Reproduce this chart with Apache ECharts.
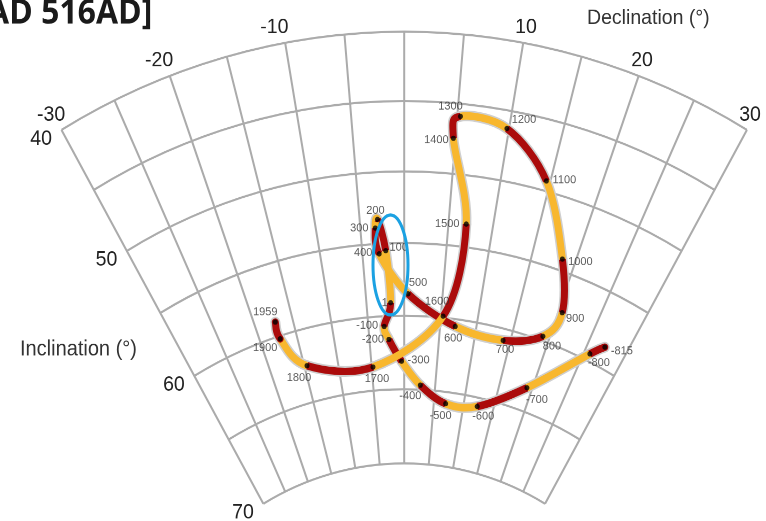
<!DOCTYPE html>
<html>
<head>
<meta charset="utf-8">
<script src="https://cdn.jsdelivr.net/npm/echarts@6/dist/echarts.min.js"></script>
<style>
  html, body { margin: 0; padding: 0; background: #fff; overflow: hidden; width: 766px; height: 521px; }
  /* the polar fan is drawn slightly taller than wide */
  #chart { width: 766px; height: 488px; transform: scaleY(1.069); transform-origin: 0 0; }
</style>
</head>
<body>
<div id="chart"></div>
<script>
// Secular variation path: year, declination (deg), inclination (deg)
const years = [-815, -800, -700, -600, -500, -400, -300, -200, -100, 1, 100, 200, 300, 400, 500,
  600, 700, 800, 900, 1000, 1100, 1200, 1300, 1400, 1500, 1600, 1700, 1800, 1900, 1959];
const declination = [27.2, 25.8, 19.2, 12.3, 7.0, 2.6, -0.4, -2.2, -2.8, -1.8, -2.2, -3.0, -3.3, -3.0, 0.5,
  7.1, 14.0, 19.1, 20.5, 18.5, 14.6, 9.8, 5.3, 4.8, 7.0, 5.3, -4.8, -14.6, -17.3, -17.3];
const inclination = [58.6, 59.5, 63.4, 65.6, 65.8, 64.7, 63.1, 61.6, 60.7, 59.1, 55.5, 53.3, 53.9, 55.7, 58.5,
  60.5, 60.8, 59.7, 57.7, 54.2, 49.3, 46.3, 45.9, 47.5, 53.4, 59.9, 63.4, 62.5, 60.2, 59.0];

// Axis ticks
const decLabelTicks = [-30, -20, -10, 10, 20, 30];
const incGridTicks = [40, 45, 50, 55, 60, 65, 70];
const incLabelTicks = [40, 50, 60, 70];

const STRETCH = 1.069;
const RED = '#ab0b0b';
const ORANGE = '#f8b72e';
const GRID = '#ababab';

// Equal-area (Lambert) radial distance of an inclination
function areaRadius(inc) { return Math.sin((90 - inc) / 2 * Math.PI / 180); }
function inclinationOf(r) { return 90 - 2 * Math.asin(r) * 180 / Math.PI; }

// label placement around each dot (screen px)
const labelOffset = {
  '-815': [17, 4], '-800': [9, 9], '-700': [10, 12], '-600': [6, 10], '-500': [-5, 12],
  '-400': [-10, 11], '-300': [17, -1], '-200': [-16, 0], '-100': [-17, -1], '1': [-6, 0],
  '100': [13, -3], '200': [-2, -9], '300': [-16, 0], '400': [-16, -1], '500': [10, -11],
  '600': [-2, 12], '700': [2, 9], '800': [9, 10], '900': [13, 6], '1000': [18, 3],
  '1100': [18, -1], '1200': [17, -9], '1300': [-10, -10], '1400': [-17, 2], '1500': [-19, 0],
  '1600': [-6, -15], '1700': [4, 12], '1800': [-8, 12], '1900': [-15, 9], '1959': [-10, -10]
};

const pathData = years.map((y, i) => [areaRadius(inclination[i]), declination[i], y]);

// Catmull-Rom segment between point i and i+1, as a cubic Bezier
function segmentShape(api, i, n) {
  const pt = k => api.coord([api.value(0, k), api.value(1, k)]);
  const p0 = pt(Math.max(i - 1, 0)), p1 = pt(i), p2 = pt(i + 1), p3 = pt(Math.min(i + 2, n - 1));
  return {
    x1: p1[0], y1: p1[1], x2: p2[0], y2: p2[1],
    cpx1: p1[0] + (p2[0] - p0[0]) / 6, cpy1: p1[1] + (p2[1] - p0[1]) / 6,
    cpx2: p2[0] - (p3[0] - p1[0]) / 6, cpy2: p2[1] - (p3[1] - p1[1]) / 6
  };
}

const decRich = { '-30': 'a', '-20': 'b', '-10': 'c', '10': 'd', '20': 'e', '30': 'f' };
const tickFont = { fontFamily: 'Liberation Sans', fontSize: 19.5, color: '#222' };

const chart = echarts.init(document.getElementById('chart'), null, { renderer: 'canvas', devicePixelRatio: 2 });

chart.setOption({
  backgroundColor: '#fff',
  animation: false,
  title: [
    { text: 'AD 516AD]', left: -13, top: -3, padding: 0,
      textStyle: { fontFamily: 'Open Sans', fontWeight: 'bold', fontSize: 32, color: '#1a1a1a' } },
    { text: 'Declination (°)', left: 587, top: 7, padding: 0,
      textStyle: { fontFamily: 'Liberation Sans', fontWeight: 'normal', fontSize: 19.5, color: '#333' } },
    { text: 'Inclination (°)', left: 20, top: 317, padding: 0,
      textStyle: { fontFamily: 'Liberation Sans', fontWeight: 'normal', fontSize: 20, color: '#333' } }
  ],
  polar: {
    center: [404.2, 764.5 / STRETCH],
    radius: [1622 * areaRadius(70), 1622 * areaRadius(40)]
  },
  angleAxis: {
    type: 'value', min: -30, max: 30, interval: 5,
    startAngle: 120, endAngle: 60, clockwise: true,
    axisLine: { show: false },
    axisTick: { show: false },
    splitLine: { show: true, lineStyle: { color: GRID, width: 2 } },
    axisLabel: {
      customValues: decLabelTicks,
      margin: 4.5,
      formatter: v => '{' + decRich[String(v)] + '|' + v + '}',
      rich: {
        a: Object.assign({ padding: [0, -6, 0, 0] }, tickFont),
        b: Object.assign({ padding: [0, -5, 0, 0] }, tickFont),
        c: Object.assign({ padding: [0, 20, 0, 0] }, tickFont),
        d: Object.assign({ padding: [0, 0, 0, 4] }, tickFont),
        e: Object.assign({ padding: [0, 0, 0, -9] }, tickFont),
        f: Object.assign({ padding: [0, 0, 0, -10] }, tickFont)
      }
    }
  },
  radiusAxis: {
    type: 'value', min: areaRadius(70), max: areaRadius(40),
    axisLine: { show: false },
    axisTick: { show: false, customValues: incGridTicks.map(areaRadius) },
    splitLine: { show: true, lineStyle: { color: GRID, width: 2 } },
    axisLabel: {
      customValues: incLabelTicks.map(areaRadius),
      margin: 11,
      formatter: v => '{v|' + Math.round(inclinationOf(v)) + '}',
      rich: { v: Object.assign({ padding: [6, 0, 0, 0] }, tickFont) }
    }
  },
  series: [
    {
      // light outline under the path
      type: 'custom', coordinateSystem: 'polar', z: 2, silent: true,
      data: pathData,
      renderItem: (params, api) => {
        const i = params.dataIndexInside, n = params.dataInsideLength;
        if (i >= n - 1) return null;
        return { type: 'bezierCurve', shape: segmentShape(api, i, n),
          style: { fill: null, stroke: '#cfcfcf', lineWidth: 10, lineCap: 'round' } };
      }
    },
    {
      // alternating century segments
      type: 'custom', coordinateSystem: 'polar', z: 3, silent: true,
      data: pathData,
      renderItem: (params, api) => {
        const i = params.dataIndexInside, n = params.dataInsideLength;
        if (i >= n - 1) return null;
        const cap = (i === 0 || i === n - 2) ? 'round' : 'butt';
        return { type: 'bezierCurve', shape: segmentShape(api, i, n),
          style: { fill: null, stroke: i % 2 === 0 ? RED : ORANGE, lineWidth: 7, lineCap: cap } };
      }
    },
    {
      type: 'scatter', coordinateSystem: 'polar', z: 4, silent: true,
      symbol: 'circle', symbolSize: 5,
      itemStyle: { color: '#000' },
      data: pathData.map((d, i) => {
        const off = labelOffset[String(years[i])] || [0, 0];
        return { value: [d[0], d[1]], label: { offset: [off[0], off[1] / STRETCH] } };
      }),
      label: {
        show: true, position: 'inside',
        formatter: p => String(years[p.dataIndex]),
        fontFamily: 'Liberation Sans', fontSize: 11, color: '#333',
        textBorderWidth: 0, textBorderColor: 'transparent'
      }
    }
  ],
  graphic: [
    { type: 'ellipse', z: 100, silent: true,
      shape: { cx: 390.5, cy: 265 / STRETCH, rx: 17.5, ry: 50 / STRETCH },
      style: { fill: 'none', stroke: '#1ba1e2', lineWidth: 3 } }
  ]
});
</script>
</body>
</html>
